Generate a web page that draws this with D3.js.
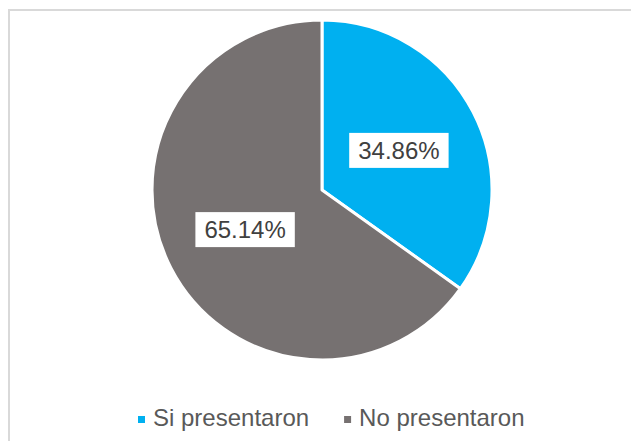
<!DOCTYPE html>
<html>
<head>
<meta charset="utf-8">
<script src="https://cdn.jsdelivr.net/npm/d3@7"></script>
<style>
  html, body { margin: 0; padding: 0; background: #fff; }
  svg { display: block; }
</style>
</head>
<body>
<svg id="chart" width="631" height="441"></svg>
<script>
const categories = ["Si presentaron", "No presentaron"];
const values = [34.86, 65.14];
const labels = ["34.86%", "65.14%"];
const colors = ["#00B0F0", "#767171"];

const svg = d3.select("#chart");
const W = 631, H = 441;

// chart border (extends past right/bottom edge)
svg.append("rect")
  .attr("x", 9).attr("y", 10)
  .attr("width", 640).attr("height", 450)
  .attr("fill", "#fff")
  .attr("stroke", "#d9d9d9")
  .attr("stroke-width", 2);

const cx = 322, cy = 190, r = 170;
const g = svg.append("g").attr("transform", `translate(${cx},${cy})`);

const pie = d3.pie().sort(null).value(d => d)(values);
const arc = d3.arc().innerRadius(0).outerRadius(r);
const labelArc = d3.arc().innerRadius(86.5).outerRadius(86.5);

g.selectAll("path.slice")
  .data(pie)
  .join("path")
  .attr("class", "slice")
  .attr("d", arc)
  .attr("fill", (d, i) => colors[i])
  .attr("stroke", "#fff")
  .attr("stroke-width", 3)
  .attr("stroke-linejoin", "round");

const lbl = g.selectAll("g.lbl")
  .data(pie)
  .join("g")
  .attr("class", "lbl")
  .attr("transform", d => `translate(${labelArc.centroid(d)})`);

lbl.each(function(d, i) {
  const gg = d3.select(this);
  const t = gg.append("text")
    .attr("text-anchor", "middle")
    .attr("dy", "0.35em")
    .attr("font-family", "Liberation Sans, Arial, sans-serif")
    .attr("font-size", 24)
    .attr("fill", "#404040")
    .text(labels[i]);
  const bb = t.node().getBBox();
  gg.insert("rect", "text")
    .attr("x", bb.x - 9)
    .attr("y", -17.5)
    .attr("width", bb.width + 18)
    .attr("height", 35)
    .attr("fill", "#fff");
});

// legend
const legend = svg.append("g").attr("transform", "translate(0,426)");
let x = 138;
categories.forEach((c, i) => {
  legend.append("rect")
    .attr("x", x).attr("y", -10)
    .attr("width", 7).attr("height", 7)
    .attr("fill", colors[i]);
  const t = legend.append("text")
    .attr("x", x + 15).attr("y", 0)
    .attr("font-family", "Liberation Sans, Arial, sans-serif")
    .attr("font-size", 24)
    .attr("fill", "#595959")
    .text(c);
  x = x + 15 + t.node().getComputedTextLength() + 35;
});
</script>
</body>
</html>
